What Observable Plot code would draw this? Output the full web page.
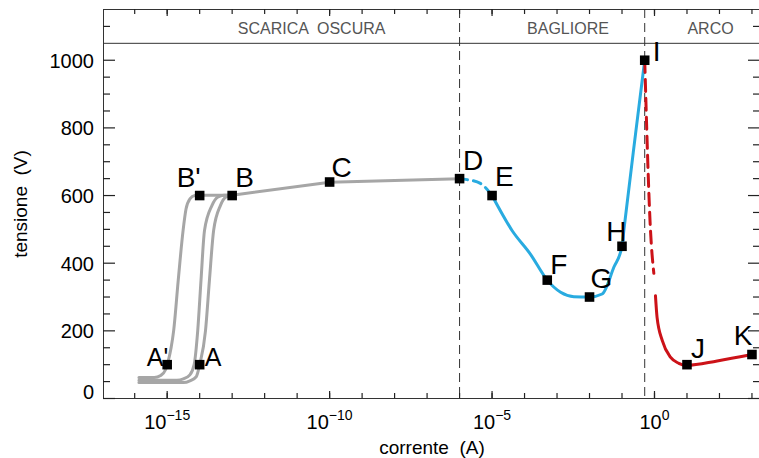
<!DOCTYPE html>
<html lang="it">
<head>
<meta charset="utf-8">
<script src="https://cdn.jsdelivr.net/npm/d3@7"></script>
<script src="https://cdn.jsdelivr.net/npm/@observablehq/plot@0.6"></script>
<style>
  html, body { margin: 0; padding: 0; background: #fff; overflow: hidden; }
  #chart svg { display: block; max-width: none; }
  #chart svg text { white-space: pre; }
</style>
</head>
<body>
<div id="chart"></div>
<script>
// ---------------- data ----------------
// labelled points (current in A, voltage in V)
const pointLabels  = ["A'", "A", "B'", "B", "C", "D", "E", "F", "G", "H", "I", "J", "K"];
const pointCurrent = [1e-15, 1e-14, 1e-14, 1e-13, 1e-10, 1e-6, 1e-5, 5e-4, 1e-2, 1e-1, 0.5, 10, 1000];
const pointVoltage = [100, 100, 600, 600, 640, 650, 600, 350, 300, 450, 1000, 100, 130];

// dark discharge: three onset curves and the saturation line B'-B-C-D
const grayCurve1Current = [1.35e-16, 4.0e-16, 6.3e-16, 8.9e-16, 1.07e-15, 1.32e-15, 1.58e-15, 2.19e-15, 3.09e-15, 3.8e-15, 5.0e-15, 7.1e-15, 1e-14];
const grayCurve1Voltage = [62, 62, 68, 85, 110, 150, 200, 350, 497, 560, 590, 600, 601];
const grayCurve2Current = [1.35e-16, 2.0e-15, 3.16e-15, 5.0e-15, 6.76e-15, 8.7e-15, 1.1e-14, 1.41e-14, 2.4e-14, 3.55e-14, 5.6e-14, 1e-13];
const grayCurve2Voltage = [54, 54, 58, 70, 100, 200, 350, 497, 571, 595, 601, 601];
const grayCurve3Current = [1.35e-16, 3.16e-15, 5.0e-15, 7.9e-15, 1e-14, 1.51e-14, 2.0e-14, 2.69e-14, 4.37e-14, 6.3e-14, 1e-13];
const grayCurve3Voltage = [47, 47, 52, 65, 100, 200, 350, 497, 571, 595, 601];
const grayMainCurrent = [1e-14, 1e-13, 1e-10, 1e-6];
const grayMainVoltage = [601, 601, 639, 650];

// glow discharge
const blueDashCurrent = [1e-6, 1.7e-6, 4.37e-6, 1e-5];
const blueDashVoltage = [650, 647, 636, 600];
const blueCurrent = [1e-5, 4.17e-5, 1.51e-4, 5e-4, 1.29e-3, 3.3e-3, 1e-2, 2.45e-2, 5.6e-2, 0.1, 0.1135, 0.26, 0.5];
const blueVoltage = [600, 496, 427, 350, 314, 301, 300, 309, 388, 450, 496, 781, 1000];

// arc
const redDashCurrent = [0.5, 0.754, 0.955];
const redDashVoltage = [1000, 496, 370];
const redCurrent = [1.07, 1.2, 1.74, 3.09, 5.6, 10, 85, 1000];
const redVoltage = [304, 240, 171, 122, 104, 98, 111, 130];

// region boundaries and names
const dividerCurrent = [1e-6, 0.5];
const regionNames   = ["SCARICA  OSCURA", "BAGLIORE", "ARCO"];
const regionCurrent = [2.8e-11, 2.17e-3, 53];

// axes
const xDomain = [1.096e-17, 1832];
const yDomain = [0, 1150];
const yHeaderLine = 1050;
const xDecadeTicks = [1e-16, 1e-15, 1e-14, 1e-13, 1e-12, 1e-11, 1e-10, 1e-9, 1e-8, 1e-7, 1e-6,
                      1e-5, 1e-4, 1e-3, 1e-2, 1e-1, 1, 1e1, 1e2, 1e3];
const xLabelTicks = [1e-15, 1e-10, 1e-5, 1];
const yMajorTicks = [0, 200, 400, 600, 800, 1000];
const yMinorTicks = [50, 100, 150, 250, 300, 350, 450, 500, 550, 650, 700, 750, 850, 900, 950, 1100];
const xTitle = "corrente  (A)";
const yTitle = "tensione  (V)";

// ---------------- layout & styles ----------------
const W = 760, H = 458, ML = 103, MR = 0, MT = 9, MB = 60;
const FW = W - ML - MR, FH = H - MT - MB;   // frame size in px
const FONT = '"Liberation Sans", Arial, Helvetica, sans-serif';
const axisColor = "#333";
const tickColor = "#222";
const grayColor = "#a6a6a6";
const blueColor = "#29abe0";
const redColor = "#cc1218";
const labelPlacement = {
  "A'": {anchor: "end",   dx: 1,   dy: 1,    size: 25},
  "A":  {anchor: "start", dx: 5,   dy: 1,    size: 25},
  "B'": {anchor: "end",   dx: 1,   dy: -9,   size: 28},
  "B":  {anchor: "start", dx: 3,   dy: -9,   size: 28},
  "C":  {anchor: "start", dx: 2,   dy: -5,   size: 28},
  "D":  {anchor: "start", dx: 3.5, dy: -9,   size: 28},
  "E":  {anchor: "start", dx: 3,   dy: -9.5, size: 28},
  "F":  {anchor: "start", dx: 3,   dy: -6,   size: 28},
  "G":  {anchor: "start", dx: 1,   dy: -9.5, size: 28},
  "H":  {anchor: "end",   dx: 4.5, dy: -5,   size: 28},
  "I":  {anchor: "start", dx: 8,   dy: 1,    size: 28},
  "J":  {anchor: "start", dx: 4,   dy: -7,   size: 28},
  "K":  {anchor: "end",   dx: 0.5, dy: -9.5, size: 28}
};

// ---------------- tables ----------------
const table = (xs, ys) => xs.map((x, i) => ({current: x, voltage: ys[i]}));
const points = pointLabels.map((label, i) => ({label, current: pointCurrent[i], voltage: pointVoltage[i]}));

const tickStyle = {stroke: tickColor, strokeWidth: 1.2};
// inward ticks: a full-frame tick mark inset down to the wanted pixel length
const bottomTicks = (v, len) => Plot.tickX(v, {x: d => d, insetTop: FH - len, ...tickStyle});
const topTicks    = (v, len) => Plot.tickX(v, {x: d => d, insetBottom: FH - len, ...tickStyle});
const leftTicks   = (v, len) => Plot.tickY(v, {y: d => d, insetRight: FW - len, ...tickStyle});
const rightTicks  = (v, len) => Plot.tickY(v, {y: d => d, insetLeft: FW - len, ...tickStyle});

const lineOpts = {x: "current", y: "voltage", strokeWidth: 3, curve: "monotone-x"};

const svg = Plot.plot({
  width: W,
  height: H,
  marginLeft: ML,
  marginRight: MR,
  marginTop: MT,
  marginBottom: MB,
  style: {fontFamily: FONT, color: "#000", background: "#fff"},
  x: {type: "log", domain: xDomain, axis: null},
  y: {domain: yDomain, axis: null},
  marks: [
    // frame and header separator
    Plot.ruleY([yDomain[0], yHeaderLine, yDomain[1]], {stroke: axisColor, strokeWidth: 1}),
    Plot.ruleX([xDomain[0]], {stroke: axisColor, strokeWidth: 1}),
    // region dividers
    Plot.ruleX(dividerCurrent, {x: d => d, stroke: axisColor, strokeWidth: 1, strokeDasharray: "9,5"}),
    // curves
    Plot.line(table(grayCurve1Current, grayCurve1Voltage), {...lineOpts, stroke: grayColor}),
    Plot.line(table(grayCurve2Current, grayCurve2Voltage), {...lineOpts, stroke: grayColor}),
    Plot.line(table(grayCurve3Current, grayCurve3Voltage), {...lineOpts, stroke: grayColor}),
    Plot.line(table(grayMainCurrent, grayMainVoltage), {...lineOpts, curve: "linear", stroke: grayColor}),
    Plot.line(table(blueDashCurrent, blueDashVoltage), {...lineOpts, stroke: blueColor, strokeDasharray: "8,6"}),
    Plot.line(table(blueCurrent, blueVoltage), {...lineOpts, stroke: blueColor}),
    Plot.line(table(redDashCurrent, redDashVoltage), {...lineOpts, stroke: redColor, strokeDasharray: "12,7"}),
    Plot.line(table(redCurrent, redVoltage), {...lineOpts, stroke: redColor}),
    // points
    Plot.dot(points, {x: "current", y: "voltage", symbol: "square", r: 5.4, fill: "#000", stroke: "none"}),
    // point labels
    ...points.map(p => {
      const s = labelPlacement[p.label];
      return Plot.text([p], {
        x: "current", y: "voltage", text: "label",
        textAnchor: s.anchor, lineAnchor: "bottom", dx: s.dx, dy: s.dy,
        fontSize: s.size, fill: "#000"
      });
    }),
    // region names
    Plot.text(regionNames, {
      x: (d, i) => regionCurrent[i], y: () => 1094, text: d => d,
      textAnchor: "middle", lineAnchor: "middle", fontSize: 16, fill: "#555",
      letterSpacing: "0.7px"
    }),
    // ticks (inward)
    bottomTicks(xDecadeTicks, 5), bottomTicks(xLabelTicks, 7),
    topTicks(xDecadeTicks, 5), topTicks(xLabelTicks, 7),
    leftTicks(yMinorTicks, 7), leftTicks(yMajorTicks, 12),
    rightTicks(yMinorTicks, 7), rightTicks(yMajorTicks, 12),
    // tick labels
    Plot.text(xLabelTicks, {
      x: d => d, frameAnchor: "bottom", dy: 30, lineAnchor: "bottom", textAnchor: "middle",
      fontSize: 20, fill: "#000",
      text: d => { const e = Math.round(Math.log10(d)); return "10^" + (e < 0 ? "\u2212" + (-e) : String(e)); }
    }),
    Plot.text(yMajorTicks.filter(d => d > 0), {
      y: d => d, frameAnchor: "left", dx: -9.5, dy: 7.5, lineAnchor: "bottom", textAnchor: "end",
      fontSize: 20, fill: "#000", text: d => String(d)
    }),
    Plot.text(yMajorTicks.filter(d => d === 0), {
      y: d => d, frameAnchor: "left", dx: -9.5, dy: 0, lineAnchor: "bottom", textAnchor: "end",
      fontSize: 20, fill: "#000", text: d => String(d)
    }),
    // axis titles
    Plot.text([xTitle], {
      frameAnchor: "bottom", dy: 55, lineAnchor: "bottom", textAnchor: "middle",
      fontSize: 19, fill: "#000", letterSpacing: "1.5px", text: d => d
    }),
    Plot.text([yTitle], {
      frameAnchor: "left", dx: -77, rotate: -90, lineAnchor: "bottom", textAnchor: "middle",
      fontSize: 19, fill: "#000", letterSpacing: "1.5px", text: d => d
    })
  ]
});

// superscript exponents in the x tick labels
d3.select(svg).selectAll("text").each(function () {
  const t = this.textContent;
  if (!t.includes("^")) return;
  const [base, exp] = t.split("^");
  this.textContent = "";
  const sel = d3.select(this);
  sel.append("tspan").text(base);
  sel.append("tspan").attr("dy", -9).attr("font-size", 14).text(exp);
});

document.getElementById("chart").appendChild(svg);
</script>
</body>
</html>
